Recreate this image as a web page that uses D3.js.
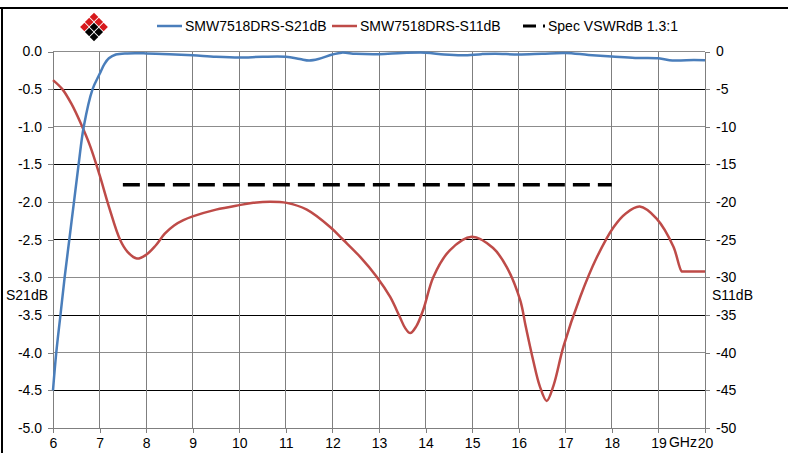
<!DOCTYPE html>
<html>
<head>
<meta charset="utf-8">
<script src="https://cdn.jsdelivr.net/npm/d3@7"></script>
<style>
  body { margin: 0; background: #fff; }
  svg text { font-family: "Liberation Sans Narrow", "Arial Narrow", "Liberation Sans", Arial, sans-serif; font-size: 14px; fill: #000; }
</style>
</head>
<body>
<div id="chart"></div>
<script>
// S21 insertion loss, dB (left axis)
var s21Freq = [6.0, 6.07, 6.16, 6.25, 6.35, 6.45, 6.55, 6.66, 6.85, 7.0, 7.1, 7.2, 7.35, 7.6, 8.0, 8.5, 9.0, 9.5, 10.0, 10.5, 11.0, 11.3, 11.5, 11.7, 12.0, 12.2, 12.5, 13.0, 13.5, 14.0, 14.4, 14.8, 15.2, 15.5, 16.0, 16.5, 17.0, 17.5, 18.0, 18.5, 19.0, 19.3, 19.6, 20.0];
var s21dB = [-4.5, -4.0, -3.5, -3.0, -2.5, -2.0, -1.5, -1.0, -0.5, -0.3, -0.17, -0.09, -0.04, -0.025, -0.025, -0.035, -0.05, -0.07, -0.08, -0.07, -0.07, -0.1, -0.12, -0.1, -0.04, -0.015, -0.03, -0.035, -0.02, -0.015, -0.04, -0.05, -0.035, -0.03, -0.04, -0.03, -0.02, -0.045, -0.065, -0.085, -0.09, -0.12, -0.115, -0.115];

// S11 return loss, dB (right axis)
var s11Freq = [6.0, 6.2, 6.4, 6.6, 6.8, 7.0, 7.2, 7.44, 7.6, 7.8, 8.0, 8.2, 8.4, 8.6, 8.8, 9.0, 9.5, 10.0, 10.3, 10.66, 11.02, 11.45, 11.95, 12.23, 12.6, 12.95, 13.24, 13.45, 13.56, 13.67, 13.8, 13.95, 14.17, 14.52, 14.99, 15.45, 15.74, 16.03, 16.15, 16.31, 16.45, 16.6, 16.75, 16.96, 17.32, 17.68, 18.04, 18.3, 18.6, 18.96, 19.32, 19.5, 19.55, 20.0];
var s11dB = [-3.8, -5.0, -7.0, -9.6, -12.6, -16.4, -20.6, -25.0, -26.6, -27.5, -27.0, -25.8, -24.2, -23.1, -22.4, -21.9, -21.0, -20.4, -20.1, -19.95, -20.1, -21.0, -23.3, -25.0, -27.3, -29.9, -32.6, -35.3, -36.7, -37.4, -36.5, -34.3, -29.9, -26.4, -24.6, -26.1, -28.6, -33.0, -36.5, -41.0, -44.4, -46.4, -44.3, -39.2, -32.6, -27.3, -23.3, -21.5, -20.6, -22.2, -25.9, -29.2, -29.2, -29.2];

// spec limit VSWR 1.3:1
var specFreq = [7.5, 18.0];
var specdB = [-17.7, -17.7];

var xTicks = [6, 7, 8, 9, 10, 11, 12, 13, 14, 15, 16, 17, 18, 19, 20];
var leftTicks = [0, -0.5, -1, -1.5, -2, -2.5, -3, -3.5, -4, -4.5, -5];
var rightTicks = [0, -5, -10, -15, -20, -25, -30, -35, -40, -45, -50];

var legendNames = ['SMW7518DRS-S21dB', 'SMW7518DRS-S11dB', 'Spec VSWRdB 1.3:1'];

var blue = '#4a7ebb', red = '#be4b48';

var width = 788, height = 453;
var svg = d3.select('#chart').append('svg')
    .attr('width', width)
    .attr('height', height);

var x = d3.scaleLinear().domain([6, 20]).range([53, 705]);
var yL = d3.scaleLinear().domain([-5, 0]).range([428, 51.5]);
var yR = d3.scaleLinear().domain([-50, 0]).range([428, 51.5]);

// frame
svg.append('line').attr('x1', 0).attr('x2', width).attr('y1', 8).attr('y2', 8)
    .attr('stroke', '#000').attr('stroke-width', 2);
svg.append('line').attr('x1', 2).attr('x2', 2).attr('y1', 8).attr('y2', height)
    .attr('stroke', '#000').attr('stroke-width', 2);

var grid = svg.append('g').attr('shape-rendering', 'crispEdges');

grid.selectAll('.hgrid')
    .data(leftTicks)
    .enter()
    .append('line')
    .attr('class', 'hgrid')
    .attr('x1', x(6)).attr('x2', x(20))
    .attr('y1', d => yL(d)).attr('y2', d => yL(d))
    .attr('stroke', d => (d * 2) % 2 != 0 ? '#000' : '#8c8c8c');

grid.selectAll('.vgrid')
    .data(xTicks)
    .enter()
    .append('line')
    .attr('class', 'vgrid')
    .attr('x1', d => x(d)).attr('x2', d => x(d))
    .attr('y1', yL(0)).attr('y2', yL(-5))
    .attr('stroke', '#7f7f7f');

// axes
var fmtL = d => d3.format('.1f')(d).replace('\u2212', '-');
var fmtR = d => String(d);

var axisL = svg.append('g')
    .attr('transform', 'translate(' + x(6) + ',0)')
    .call(d3.axisLeft(yL).tickValues(leftTicks).tickFormat(fmtL).tickSize(5).tickPadding(6));

var axisR = svg.append('g')
    .attr('transform', 'translate(' + x(20) + ',0)')
    .call(d3.axisRight(yR).tickValues(rightTicks).tickFormat(fmtR).tickSize(5).tickPadding(6));

var axisB = svg.append('g')
    .attr('transform', 'translate(0,' + yL(-5) + ')')
    .call(d3.axisBottom(x).tickValues(xTicks).tickFormat(d3.format('d')).tickSize(5).tickPadding(5));

[axisL, axisR, axisB].forEach(a => {
    a.select('.domain').attr('stroke', '#7f7f7f').attr('shape-rendering', 'crispEdges');
    a.selectAll('.tick line').attr('stroke', '#7f7f7f').attr('shape-rendering', 'crispEdges');
    a.selectAll('text').attr('font-size', null).attr('font-family', null).attr('fill', '#000');
});
axisL.select('.domain').remove();
axisL.selectAll('.tick line').attr('x2', -5);

svg.append('text').attr('x', x(19) + 10.5).attr('y', yL(-5) + 19).text('GHz');

svg.append('text').attr('x', 6).attr('y', 300).text('S21dB');
svg.append('text').attr('x', 712).attr('y', 300).text('S11dB');

// series
var line = d3.line().curve(d3.curveCatmullRom.alpha(0.5));

svg.append('path')
    .attr('d', line(s11Freq.map((f, i) => [x(f), yR(s11dB[i])])))
    .attr('fill', 'none').attr('stroke', red).attr('stroke-width', 2.5);

svg.append('path')
    .attr('d', line(s21Freq.map((f, i) => [x(f), yL(s21dB[i])])))
    .attr('fill', 'none').attr('stroke', blue).attr('stroke-width', 2.5);

svg.append('path')
    .attr('d', d3.line()(specFreq.map((f, i) => [x(f), yR(specdB[i])])))
    .attr('fill', 'none').attr('stroke', '#000').attr('stroke-width', 3.5)
    .attr('stroke-dasharray', '17,8');

// legend
var legend = svg.append('g');
var legX = [157, 332, 523];
var legColor = [blue, red, '#000'];
legendNames.forEach((n, i) => {
    legend.append('line')
        .attr('x1', legX[i]).attr('x2', legX[i] + (i == 2 ? 22 : 25))
        .attr('y1', 26).attr('y2', 26)
        .attr('stroke', legColor[i]).attr('stroke-width', i == 2 ? 3 : 2.5)
        .attr('stroke-dasharray', i == 2 ? '13,7' : null);
    legend.append('text')
        .attr('x', legX[i] + (i == 2 ? 25 : 28)).attr('y', 31)
        .text(n);
});

// logo: 3x3 diamond grid, red top / black bottom
var logo = svg.append('g').attr('transform', 'translate(94,17)');
var cells = [];
for (var i = 0; i < 3; i++) {
    for (var j = 0; j < 3; j++) {
        cells.push({ i: i, j: j, red: (i == 0 || j == 0) });
    }
}
logo.selectAll('path')
    .data(cells)
    .enter()
    .append('path')
    .attr('d', d => {
        var cx = (d.i - d.j) * 4.8, cy = (d.i + d.j) * 5;
        return 'M' + cx + ',' + (cy - 4.3) + 'L' + (cx + 4.3) + ',' + cy + 'L' + cx + ',' + (cy + 4.3) + 'L' + (cx - 4.3) + ',' + cy + 'Z';
    })
    .attr('fill', d => d.red ? '#d7191c' : '#000');
</script>
</body>
</html>
